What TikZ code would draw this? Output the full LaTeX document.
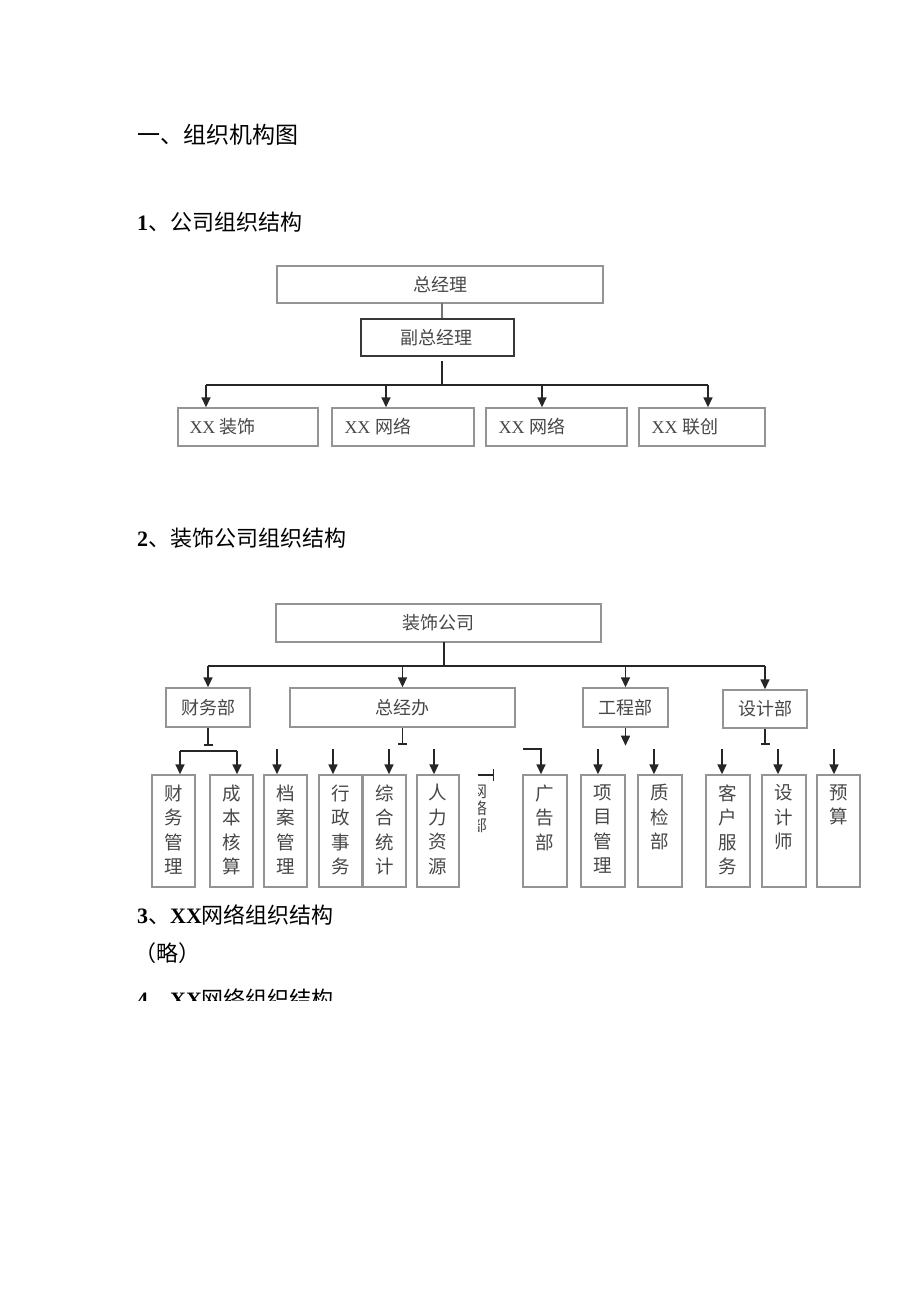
\documentclass[tikz,border=0pt]{standalone}
\usepackage{fontspec}
\setmainfont{Liberation Serif}
\newfontfamily\cjk{Noto Sans CJK SC}
\usetikzlibrary{arrows.meta,fit}
\tikzset{
  cell/.style={draw=black!42, line width=1.4pt, inner sep=0pt},
  darkcell/.style={cell, draw=black!78, line width=1.7pt},
  lbl/.style={inner sep=0pt, text=black!72},
  clbl/.style={lbl, anchor=center, font=\cjk\fontsize{18}{20}\selectfont},
  conn/.style={draw=black!85, line width=1.6pt},
  thinconn/.style={draw=black!55, line width=1.4pt},
  arr/.style={conn, -{Triangle[length=10pt,width=9pt]}},
  barend/.style={conn, -{Bar[width=9pt,line width=1.5pt]}},
  head/.style={inner sep=0pt, anchor=base west, font=\fontsize{22}{26}\selectfont},
  bighead/.style={head, font=\fontsize{23}{26}\selectfont},
  vlbl/.style={lbl, align=center, anchor=north, font=\cjk\fontsize{18.5}{24.5}\selectfont},
  cutlbl/.style={lbl, align=center, anchor=north, font=\cjk\fontsize{16}{17}\selectfont},
  xxlbl/.style={lbl, anchor=west, font=\fontsize{18}{20}\selectfont},
}
\begin{document}
\begin{tikzpicture}[x=1pt,y=-1pt]
\useasboundingbox (0,0) rectangle (920,1301);
\fill[white] (0,0) rectangle (920,1301);

% headings
\node[bighead] (h0) at (137,143) {\cjk 一、组织机构图};
\node[head] (h1) at (137,230) {\textbf{1}{\cjk 、公司组织结构}};
\node[head] (h2) at (137,546) {\textbf{2}{\cjk 、装饰公司组织结构}};
\node[head] (h3) at (137,923) {\textbf{3}{\cjk 、}\textbf{XX}{\cjk 网络组织结构}};
\node[head] (h3b) at (134,961) {\cjk （略）};
\begin{scope}
  \clip (100,975) rectangle (500,1000.5);
  \node[head] (h4) at (137,1007) {\textbf{4}{\cjk 、}\textbf{XX}{\cjk 网络组织结构}};
\end{scope}

% ---------- chart 1 ----------
\node[cell, fit={(277,266)(603,303)}] (zjl) {};
\node[clbl] (zjlt) at (zjl.center) {总经理};
\node[darkcell, fit={(361,319)(514,356)}] (fzjl) {};
\node[clbl] (fzjlt) at ([xshift=-1pt]fzjl.center) {副总经理};
\node[cell, fit={(178,408)(318,446)}] (b1) {};
\node[cell, fit={(332,408)(474,446)}] (b2) {};
\node[cell, fit={(486,408)(627,446)}] (b3) {};
\node[cell, fit={(639,408)(765,446)}] (b4) {};
\node[xxlbl] (b1t) at ([xshift=12pt]b1.west) {XX {\cjk 装饰}};
\node[xxlbl] (b2t) at ([xshift=13pt]b2.west) {XX {\cjk 网络}};
\node[xxlbl] (b3t) at ([xshift=13pt]b3.west) {XX {\cjk 网络}};
\node[xxlbl] (b4t) at ([xshift=13pt]b4.west) {XX {\cjk 联创}};

\coordinate (c1top) at (442,303);
\coordinate (c1mid) at (442,361);
\coordinate (c1bus) at (442,385);
\coordinate (a1) at (206,385);
\coordinate (a2) at (386,385);
\coordinate (a3) at (542,385);
\coordinate (a4) at (708,385);
\draw[thinconn] (c1top) -- (c1top |- fzjl.north);
\draw[conn] (c1mid) -- (c1bus);
\draw[conn] (a1) -- (a4);
\draw[arr] (a1) -- (a1 |- b1.north);
\draw[arr] (a2) -- (a2 |- b2.north);
\draw[arr] (a3) -- (a3 |- b3.north);
\draw[arr] (a4) -- (a4 |- b4.north);

% ---------- chart 2 ----------
\node[cell, fit={(276,604)(601,642)}] (zsgs) {};
\node[clbl] (zsgst) at (zsgs.center) {装饰公司};
\node[cell, fit={(166,688)(250,727)}] (cwb) {};
\node[clbl] (cwbt) at (cwb.center) {财务部};
\node[cell, fit={(290,688)(515,727)}] (zjb) {};
\node[clbl] (zjbt) at (zjb.center) {总经办};
\node[cell, fit={(583,688)(668,727)}] (gcb) {};
\node[clbl] (gcbt) at (gcb.center) {工程部};
\node[cell, fit={(723,690)(807,728)}] (sjb) {};
\node[clbl] (sjbt) at (sjb.center) {设计部};

\coordinate (c2top) at (444,642);
\coordinate (c2bus) at (444,666);
\coordinate (d1) at (208,666);
\coordinate (d4) at (765,666);
\draw[conn] (c2top) -- (c2bus);
\draw[conn] (d1) -- (d4);
\draw[arr] (d1) -- (d1 |- cwb.north);
\draw[arr] (zjb.north |- d1) -- (zjb.north);
\draw[arr] (gcb.north |- d1) -- (gcb.north);
\draw[arr] (d4) -- (d4 |- sjb.north);

% level 3 boxes
\newcommand\lvbox[4]{%
  \node[cell, fit={(#2,775)(#3,887)}] (#1) {};
  \node[vlbl] (#1t) at ([yshift=-10pt]#1.north) {#4};
}
\lvbox{e1}{152}{195}{财\\务\\管\\理}
\lvbox{e2}{210}{253}{成\\本\\核\\算}
\lvbox{e3}{264}{307}{档\\案\\管\\理}
\lvbox{e4}{319}{362}{行\\政\\事\\务}
\lvbox{e5}{363}{406}{综\\合\\统\\计}
\lvbox{e6}{417}{459}{人\\力\\资\\源}
\lvbox{e7}{523}{567}{广\\告\\部}
\lvbox{e8}{581}{625}{项\\目\\管\\理}
\lvbox{e9}{638}{682}{质\\检\\部}
\lvbox{e10}{706}{750}{客\\户\\服\\务}
\lvbox{e11}{762}{806}{设\\计\\师}
\lvbox{e12}{817}{860}{预\\算}

% stubs from level 2
\draw[barend] (cwb.south) -- ++(0,18);
\draw[barend] (zjb.south) -- ++(0,17);
\draw[arr] (gcb.south) -- ++(0,18);
\draw[barend] (sjb.south) -- ++(0,16);

% finance bracket
\coordinate (f1) at (180,751);
\coordinate (f2) at (237,751);
\draw[conn] (f1) -- (f2);
\draw[arr] (f1) -- (f1 |- e1.north);
\draw[arr] (f2) -- (f2 |- e2.north);

% single arrows
\coordinate (g3) at (277,749);
\coordinate (g4) at (333,749);
\coordinate (g5) at (389,749);
\coordinate (g6) at (434,749);
\coordinate (g8) at (598,749);
\coordinate (g9) at (654,749);
\coordinate (g10) at (722,749);
\coordinate (g11) at (778,749);
\coordinate (g12) at (834,749);
\draw[arr] (g3) -- (g3 |- e3.north);
\draw[arr] (g4) -- (g4 |- e4.north);
\draw[arr] (g5) -- (g5 |- e5.north);
\draw[arr] (g6) -- (g6 |- e6.north);
\draw[arr] (g8) -- (g8 |- e8.north);
\draw[arr] (g9) -- (g9 |- e9.north);
\draw[arr] (g10) -- (g10 |- e10.north);
\draw[arr] (g11) -- (g11 |- e11.north);
\draw[arr] (g12) -- (g12 |- e12.north);

% advertising bracket
\coordinate (ad0) at (523,749);
\coordinate (ad1) at (541,749);
\draw[arr] (ad0) -- (ad1) -- (ad1 |- e7.north);

% stray mark and cut-off text
\coordinate (m0) at (478,775);
\coordinate (m1) at (494,775);
\draw[conn, -{Bar[width=12pt,line width=1.5pt]}] (m0) -- (m1);
\begin{scope}
  \clip (478,780) rectangle (493,845);
  \node[cutlbl] (cut) at (479,785) {网\\络\\部};
\end{scope}
\end{tikzpicture}
\end{document}
